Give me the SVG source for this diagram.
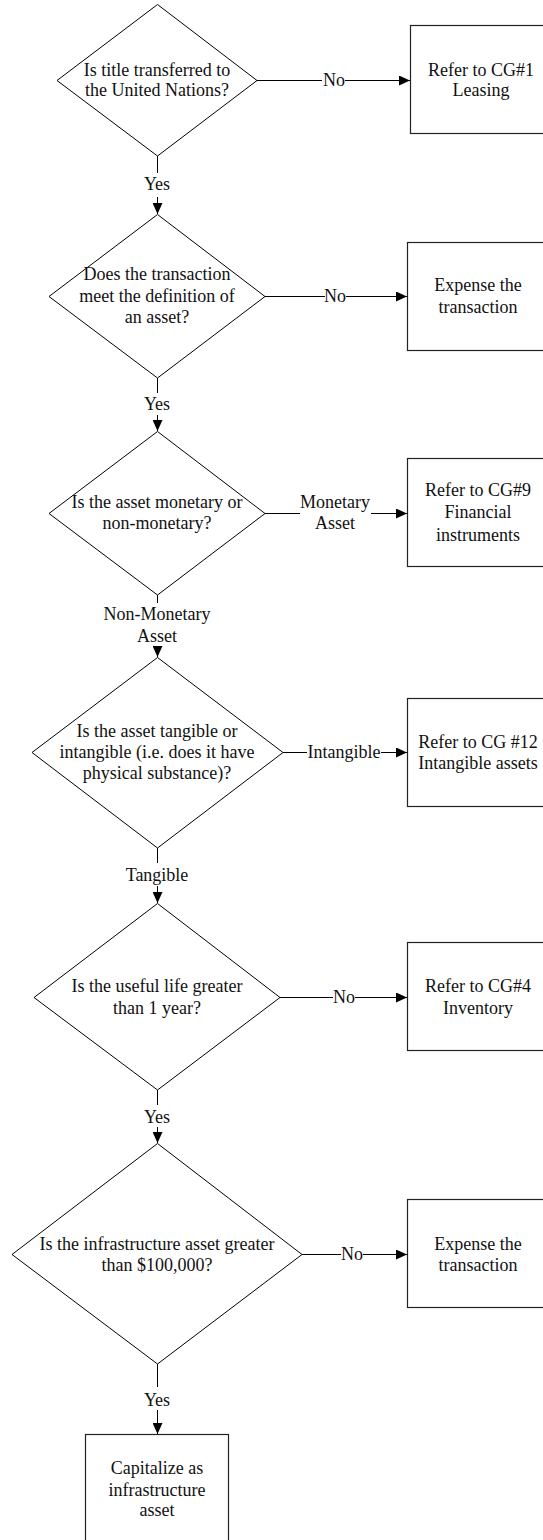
<svg xmlns="http://www.w3.org/2000/svg" width="543" height="1540" viewBox="0 0 543 1540">
  <style>
    .shape { fill: #ffffff; stroke: #000000; stroke-width: 1; }
    .box { fill: #ffffff; stroke: #222222; stroke-width: 1.2; }
    .wire { fill: none; stroke: #000000; stroke-width: 1; }
    text { font-family: "Liberation Serif", "Times New Roman", serif; font-size: 18px; fill: #111111; text-anchor: middle; }
  </style>
  <defs>
    <marker id="arrow" markerUnits="userSpaceOnUse" markerWidth="11" markerHeight="10" refX="11" refY="5" orient="auto">
      <path d="M0,0 L11,5 L0,10 Z" fill="#000000"/>
    </marker>
  </defs>
  <rect x="0" y="0" width="543" height="1540" fill="#ffffff"/>

  <!-- connectors -->
  <g id="connectors">
    <!-- title transferred -->
    <line class="wire" x1="257" y1="80.5" x2="322" y2="80.5"/>
    <line class="wire" x1="345" y1="80.5" x2="410" y2="80.5" marker-end="url(#arrow)"/>
    <text x="334" y="86">No</text>
    <line class="wire" x1="157.5" y1="156" x2="157.5" y2="173"/>
    <line class="wire" x1="157.5" y1="197" x2="157.5" y2="214" marker-end="url(#arrow)"/>
    <text x="157" y="190">Yes</text>

    <!-- definition of an asset -->
    <line class="wire" x1="265" y1="296.5" x2="325" y2="296.5"/>
    <line class="wire" x1="346" y1="296.5" x2="407" y2="296.5" marker-end="url(#arrow)"/>
    <text x="335" y="302">No</text>
    <line class="wire" x1="157.5" y1="378" x2="157.5" y2="393"/>
    <line class="wire" x1="157.5" y1="415" x2="157.5" y2="431" marker-end="url(#arrow)"/>
    <text x="157" y="410">Yes</text>

    <!-- monetary / non-monetary -->
    <line class="wire" x1="265" y1="513.5" x2="300" y2="513.5"/>
    <line class="wire" x1="371" y1="513.5" x2="407" y2="513.5" marker-end="url(#arrow)"/>
    <text x="335" y="508">Monetary</text>
    <text x="335" y="529">Asset</text>
    <line class="wire" x1="157.5" y1="595" x2="157.5" y2="603"/>
    <line class="wire" x1="157.5" y1="646" x2="157.5" y2="657" marker-end="url(#arrow)"/>
    <text x="157" y="620">Non-Monetary</text>
    <text x="157" y="642">Asset</text>

    <!-- tangible / intangible -->
    <line class="wire" x1="283" y1="752.5" x2="307" y2="752.5"/>
    <line class="wire" x1="381" y1="752.5" x2="407" y2="752.5" marker-end="url(#arrow)"/>
    <text x="344" y="758">Intangible</text>
    <line class="wire" x1="157.5" y1="848" x2="157.5" y2="863"/>
    <line class="wire" x1="157.5" y1="886" x2="157.5" y2="903" marker-end="url(#arrow)"/>
    <text x="157" y="881">Tangible</text>

    <!-- useful life -->
    <line class="wire" x1="280" y1="997.5" x2="333" y2="997.5"/>
    <line class="wire" x1="355" y1="997.5" x2="407" y2="997.5" marker-end="url(#arrow)"/>
    <text x="344" y="1003">No</text>
    <line class="wire" x1="157.5" y1="1090" x2="157.5" y2="1105"/>
    <line class="wire" x1="157.5" y1="1127" x2="157.5" y2="1143" marker-end="url(#arrow)"/>
    <text x="157" y="1123">Yes</text>

    <!-- infrastructure threshold -->
    <line class="wire" x1="302" y1="1254.5" x2="341" y2="1254.5"/>
    <line class="wire" x1="363" y1="1254.5" x2="407" y2="1254.5" marker-end="url(#arrow)"/>
    <text x="352" y="1260">No</text>
    <line class="wire" x1="157.5" y1="1364" x2="157.5" y2="1387"/>
    <line class="wire" x1="157.5" y1="1410" x2="157.5" y2="1434" marker-end="url(#arrow)"/>
    <text x="157" y="1406">Yes</text>
  </g>

  <!-- decisions -->
  <g id="q-title">
    <polygon class="shape" points="157.5,4.5 257,80.5 157.5,156 57,80.5"/>
    <text x="157" y="76">Is title transferred to</text>
    <text x="157" y="96">the United Nations?</text>
  </g>
  <g id="q-asset">
    <polygon class="shape" points="157.5,214.5 265,296.5 157.5,378 49,296.5"/>
    <text x="157" y="280">Does the transaction</text>
    <text x="157" y="302">meet the definition of</text>
    <text x="157" y="323">an asset?</text>
  </g>
  <g id="q-monetary">
    <polygon class="shape" points="157.5,431.5 265,513.5 157.5,595 49,513.5"/>
    <text x="157" y="508">Is the asset monetary or</text>
    <text x="157" y="529">non-monetary?</text>
  </g>
  <g id="q-tangible">
    <polygon class="shape" points="157.5,657.5 283,752.5 157.5,848 32,752.5"/>
    <text x="157" y="737">Is the asset tangible or</text>
    <text x="157" y="758">intangible (i.e. does it have</text>
    <text x="157" y="779">physical substance)?</text>
  </g>
  <g id="q-life">
    <polygon class="shape" points="157.5,903.5 280,997.5 157.5,1090 34,997.5"/>
    <text x="157" y="992">Is the useful life greater</text>
    <text x="157" y="1014">than 1 year?</text>
  </g>
  <g id="q-threshold">
    <polygon class="shape" points="157.5,1143.5 302,1254.5 157.5,1364 12,1254.5"/>
    <text x="157" y="1250">Is the infrastructure asset greater</text>
    <text x="157" y="1271">than $100,000?</text>
  </g>

  <!-- outcomes -->
  <g id="r-leasing">
    <rect class="box" x="410.5" y="25.5" width="145" height="108"/>
    <text x="481" y="76">Refer to CG#1</text>
    <text x="481" y="96">Leasing</text>
  </g>
  <g id="r-expense-1">
    <rect class="box" x="407.5" y="242.5" width="145" height="108"/>
    <text x="478" y="291">Expense the</text>
    <text x="478" y="313">transaction</text>
  </g>
  <g id="r-financial">
    <rect class="box" x="407.5" y="458.5" width="145" height="108"/>
    <text x="478" y="496">Refer to CG#9</text>
    <text x="478" y="518">Financial</text>
    <text x="478" y="541">instruments</text>
  </g>
  <g id="r-intangible">
    <rect class="box" x="407.5" y="698.5" width="145" height="108"/>
    <text x="478" y="748">Refer to CG #12</text>
    <text x="478" y="769">Intangible assets</text>
  </g>
  <g id="r-inventory">
    <rect class="box" x="407.5" y="942.5" width="145" height="108"/>
    <text x="478" y="992">Refer to CG#4</text>
    <text x="478" y="1014">Inventory</text>
  </g>
  <g id="r-expense-2">
    <rect class="box" x="407.5" y="1199.5" width="145" height="108"/>
    <text x="478" y="1250">Expense the</text>
    <text x="478" y="1271">transaction</text>
  </g>
  <g id="r-capitalize">
    <rect class="box" x="85.5" y="1434.5" width="143" height="120"/>
    <text x="157" y="1474">Capitalize as</text>
    <text x="157" y="1496">infrastructure</text>
    <text x="157" y="1516">asset</text>
  </g>
</svg>
